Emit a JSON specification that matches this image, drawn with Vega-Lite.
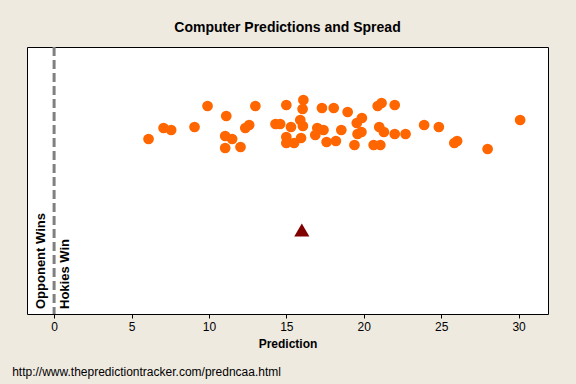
{
  "$schema": "https://vega.github.io/schema/vega-lite/v6.json",
  "autosize": "none",
  "width": 521,
  "height": 267,
  "padding": {"left": 27, "top": 47, "right": 28, "bottom": 70},
  "background": "#EEEAE0",
  "title": {"text": "Computer Predictions and Spread", "font": "Liberation Sans", "fontSize": 14, "fontWeight": "bold", "color": "#000000", "offset": 11, "anchor": "middle"},
  "config": {
    "view": {"fill": "#FFFFFF", "stroke": "#000000", "strokeWidth": 1}
  },
  "datasets": {
    "computer": [
      {"p": 6.1, "j": 175}, {"p": 7.07, "j": 186}, {"p": 7.56, "j": 184}, {"p": 9.07, "j": 187},
      {"p": 9.91, "j": 208}, {"p": 11.12, "j": 198}, {"p": 11.05, "j": 178}, {"p": 11.5, "j": 175},
      {"p": 11.05, "j": 166}, {"p": 12.04, "j": 167}, {"p": 12.35, "j": 186}, {"p": 12.6, "j": 189},
      {"p": 13.0, "j": 208}, {"p": 14.3, "j": 190}, {"p": 14.6, "j": 190}, {"p": 15.0, "j": 209},
      {"p": 15.3, "j": 187}, {"p": 15.0, "j": 177}, {"p": 15.0, "j": 171}, {"p": 15.5, "j": 171},
      {"p": 15.95, "j": 176}, {"p": 16.1, "j": 214}, {"p": 16.05, "j": 205}, {"p": 15.9, "j": 194},
      {"p": 16.07, "j": 188}, {"p": 17.3, "j": 206}, {"p": 18.06, "j": 206}, {"p": 18.96, "j": 202},
      {"p": 19.88, "j": 196}, {"p": 19.55, "j": 191}, {"p": 17.0, "j": 186}, {"p": 17.4, "j": 184},
      {"p": 16.87, "j": 179}, {"p": 17.6, "j": 172}, {"p": 18.2, "j": 173}, {"p": 18.55, "j": 184},
      {"p": 19.4, "j": 169}, {"p": 19.6, "j": 180}, {"p": 19.85, "j": 182}, {"p": 20.9, "j": 208},
      {"p": 21.15, "j": 211}, {"p": 22.0, "j": 209}, {"p": 21.0, "j": 187}, {"p": 21.3, "j": 182},
      {"p": 22.0, "j": 180}, {"p": 22.7, "j": 180}, {"p": 23.9, "j": 189}, {"p": 24.85, "j": 187},
      {"p": 26.03, "j": 173}, {"p": 25.85, "j": 171}, {"p": 28.0, "j": 165}, {"p": 30.1, "j": 194},
      {"p": 20.64, "j": 169}, {"p": 21.07, "j": 169}
    ],
    "spread": [{"p": 16, "j": 84}],
    "zero": [{"p": 0}],
    "labels": [
      {"p": -0.84, "j": 5, "t": "Opponent Wins"},
      {"p": 0.71, "j": 5, "t": "Hokies Win"}
    ],
    "footer": [{"p": -2.71, "j": -58, "t": "http://www.thepredictiontracker.com/predncaa.html"}]
  },
  "layer": [
    {
      "data": {"name": "zero"},
      "mark": {"type": "rule", "color": "#808080", "strokeWidth": 3, "strokeDash": [9, 4]},
      "encoding": {
        "x": {"field": "p", "type": "quantitative", "scale": {"domain": [-1.75, 31.9], "nice": false, "zero": false},
          "axis": {"values": [0, 5, 10, 15, 20, 25, 30], "title": "Prediction", "grid": false, "domain": false,
            "tickColor": "#000000", "tickSize": 4, "labelFont": "Liberation Sans", "labelFontSize": 12, "labelColor": "#000000", "labelPadding": 3,
            "titleFont": "Liberation Sans", "titleFontSize": 12, "titleFontWeight": "bold", "titleColor": "#000000", "titlePadding": 6}}
      }
    },
    {
      "data": {"name": "computer"},
      "mark": {"type": "circle", "color": "#FF6600", "opacity": 1, "size": 115},
      "encoding": {
        "x": {"field": "p", "type": "quantitative"},
        "y": {"field": "j", "type": "quantitative", "scale": {"domain": [0, 267], "nice": false, "zero": false}, "axis": null}
      }
    },
    {
      "data": {"name": "spread"},
      "mark": {"type": "point", "shape": "triangle-up", "filled": true, "color": "#800000", "opacity": 1, "size": 230},
      "encoding": {
        "x": {"field": "p", "type": "quantitative"},
        "y": {"field": "j", "type": "quantitative"}
      }
    },
    {
      "data": {"name": "labels"},
      "mark": {"type": "text", "angle": 270, "align": "left", "baseline": "middle", "font": "Liberation Sans", "fontSize": 13, "fontWeight": "bold", "color": "#000000"},
      "encoding": {
        "x": {"field": "p", "type": "quantitative"},
        "y": {"field": "j", "type": "quantitative"},
        "text": {"field": "t"}
      }
    },
    {
      "data": {"name": "footer"},
      "mark": {"type": "text", "align": "left", "baseline": "middle", "font": "Liberation Sans", "fontSize": 12, "color": "#000000", "clip": false},
      "encoding": {
        "x": {"field": "p", "type": "quantitative"},
        "y": {"field": "j", "type": "quantitative"},
        "text": {"field": "t"}
      }
    }
  ]
}
